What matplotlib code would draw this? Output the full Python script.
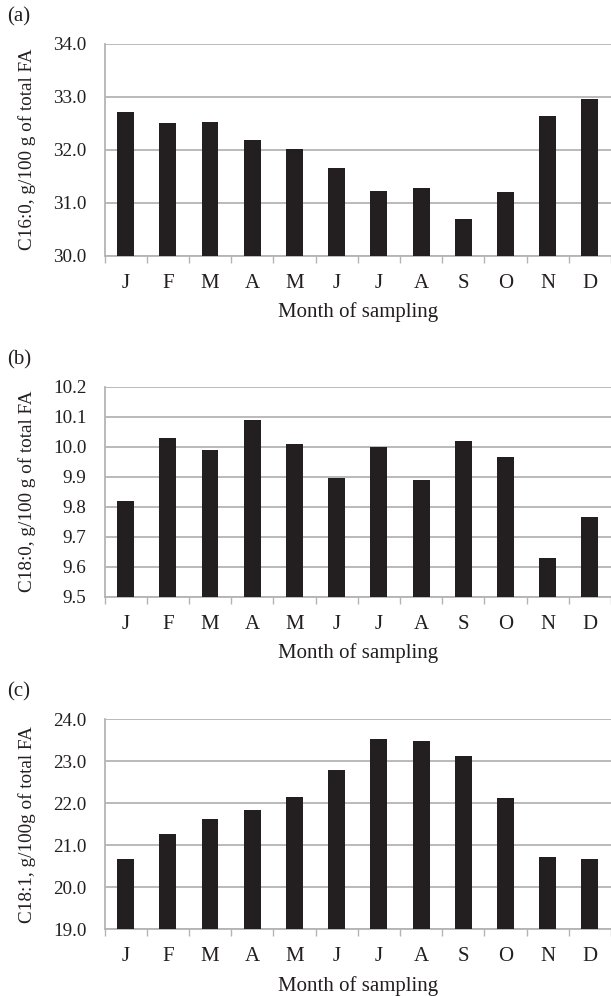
import numpy as np
import matplotlib.pyplot as plt

months = ["J", "F", "M", "A", "M", "J", "J", "A", "S", "O", "N", "D"]

c16_0 = [32.71, 32.51, 32.53, 32.19, 32.01, 31.65, 31.22, 31.27, 30.69, 31.21, 32.64, 32.95]
c18_0 = [9.82, 10.03, 9.99, 10.09, 10.01, 9.895, 10.00, 9.89, 10.02, 9.965, 9.63, 9.767]
c18_1 = [20.66, 21.26, 21.63, 21.84, 22.15, 22.78, 23.52, 23.48, 23.11, 22.11, 20.73, 20.66]

panels = [
    ("(a)", c16_0, "C16:0, g/100 g of total FA", [30.0, 31.0, 32.0, 33.0, 34.0]),
    ("(b)", c18_0, "C18:0, g/100 g of total FA", [9.5, 9.6, 9.7, 9.8, 9.9, 10.0, 10.1, 10.2]),
    ("(c)", c18_1, "C18:1, g/100g of total FA", [19.0, 20.0, 21.0, 22.0, 23.0, 24.0]),
]

plt.rcParams["font.family"] = ["Liberation Serif", "DejaVu Serif"]
ink = "#231f20"
grid = "#b4b4b4"

W, H = 611, 996
fig = plt.figure(figsize=(W / 100, H / 100), dpi=100)

# axes boxes in pixels: (top, bottom)
boxes = [(43.7, 255.7), (386.7, 596.7), (719.0, 929.3)]
left_px, right_px = 104.5, 611

x = np.arange(len(months))
for (tag, vals, ylab, yticks), (top, bot) in zip(panels, boxes):
    ax = fig.add_axes([left_px / W, 1 - bot / H, (right_px - left_px) / W, (bot - top) / H])
    ax.bar(x, np.array(vals) - yticks[0], bottom=yticks[0], width=0.4, color=ink, zorder=3)
    ax.set_xlim(-0.5, 11.5)
    ax.set_ylim(yticks[0], yticks[-1])
    ax.set_yticks(yticks)
    ax.set_yticklabels(["%.1f" % t for t in yticks])
    ax.set_xticks(x)
    ax.set_xticklabels(months)
    ax.set_xticks(np.arange(-0.5, 12, 1), minor=True)
    ax.tick_params(axis="x", which="major", length=0, pad=13, labelsize=15, colors=ink)
    ax.tick_params(axis="x", which="minor", length=5, width=1, color=grid)
    ax.tick_params(axis="y", length=0, pad=13, labelsize=13.8, colors=ink)
    ax.yaxis.grid(True, color=grid, linewidth=1.3, zorder=0)
    ax.set_axisbelow(True)
    for s in ["top", "right"]:
        ax.spines[s].set_visible(False)
    for s in ["left", "bottom"]:
        ax.spines[s].set_color(grid)
        ax.spines[s].set_linewidth(1.3)
    ax.set_xlabel("Month of sampling", fontsize=15, color=ink, labelpad=7)
    ax.set_ylabel(ylab, fontsize=13.8, color=ink, labelpad=12)
    fig.text(7 / W, 1 - (top - 27) / H, tag, fontsize=15, color=ink, va="center", ha="left")

fig.savefig("out.png", dpi=100)
